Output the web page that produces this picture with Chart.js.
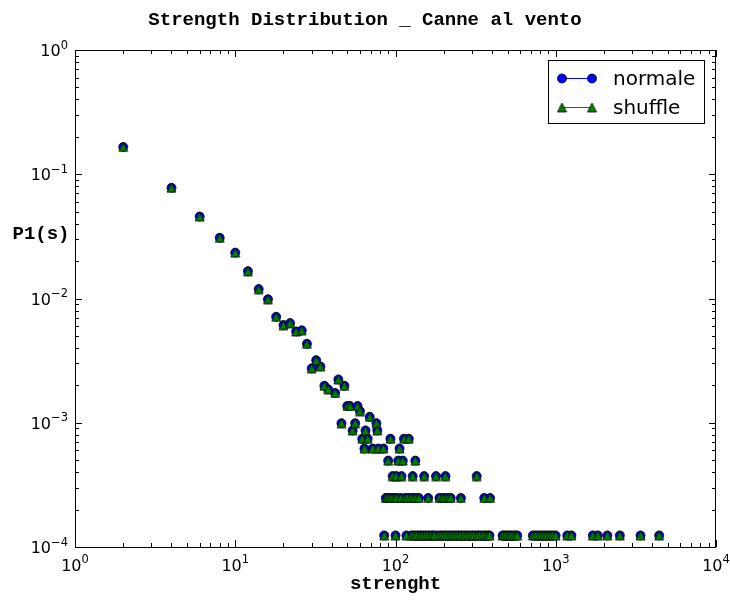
<!DOCTYPE html>
<html>
<head>
<meta charset="utf-8">
<script src="https://cdn.jsdelivr.net/npm/chart.js@4.4.0/dist/chart.umd.min.js"></script>
<style>
  body { margin: 0; background: #fff; }
  #chart { display: block; }
</style>
</head>
<body>
<canvas id="chart" width="730" height="601"></canvas>
<script>
// strength s and probability P1(s)
const strength = [
  2, 4, 6, 8, 10, 12, 14, 16, 18, 20, 22, 24, 26, 28, 30, 32, 34, 36, 38, 42,
  44, 46, 48, 50, 52, 54, 56, 58, 60, 62, 64, 65, 67, 69, 72, 76, 77, 78, 84, 85,
  87, 89, 90, 92, 93, 95, 96, 99, 100, 101, 102, 104, 106, 108, 109, 111, 113, 115, 117, 119,
  121, 124, 126, 128, 129, 131, 133, 134, 136, 140, 142, 147, 151, 153, 159, 160, 166, 172, 176, 179,
  186, 188, 194, 196, 201, 204, 205, 209, 213, 218, 221, 226, 235, 245, 254, 256, 265, 275, 286, 298,
  309, 321, 324, 334, 348, 358, 362, 376, 386, 389, 466, 482, 498, 515, 533, 556, 575, 720, 750, 782,
  812, 846, 880, 918, 956, 998, 1180, 1252, 1704, 1830, 2099, 2512, 3380, 4420
];
const pNormale = [
  0.1657, 0.0778, 0.0457, 0.0308, 0.0234, 0.0166, 0.0119, 0.00986, 0.00713, 0.00611,
  0.00634, 0.00543, 0.00554, 0.00432, 0.00274, 0.00319, 0.00284, 0.001984, 0.00186, 0.001736,
  0.002232, 0.000992, 0.001984, 0.001364, 0.001364, 0.000868, 0.000992, 0.001364, 0.00124, 0.000744,
  0.00062, 0.000868, 0.000744, 0.001116, 0.00062, 0.000992, 0.000868, 0.00062, 0.00062, 0.000124,
  0.000248, 0.000248, 0.000496, 0.000248, 0.000744, 0.000248, 0.000372, 0.000248, 0.000124, 0.000372,
  0.000248, 0.000496, 0.00062, 0.000248, 0.000372, 0.000496, 0.000744, 0.000248, 0.000124, 0.000248,
  0.000744, 0.000248, 0.000124, 0.000372, 0.000248, 0.000124, 0.000496, 0.000248, 0.000124, 0.000248,
  0.000124, 0.000124, 0.000372, 0.000124, 0.000124, 0.000248, 0.000124, 0.000124, 0.000124, 0.000372,
  0.000124, 0.000248, 0.000124, 0.000248, 0.000124, 0.000248, 0.000372, 0.000124, 0.000248, 0.000124,
  0.000248, 0.000124, 0.000124, 0.000124, 0.000124, 0.000248, 0.000124, 0.000124, 0.000124, 0.000124,
  0.000124, 0.000372, 0.000124, 0.000124, 0.000124, 0.000248, 0.000124, 0.000124, 0.000124, 0.000248,
  0.000124, 0.000124, 0.000124, 0.000124, 0.000124, 0.000124, 0.000124, 0.000124, 0.000124, 0.000124,
  0.000124, 0.000124, 0.000124, 0.000124, 0.000124, 0.000124, 0.000124, 0.000124, 0.000124, 0.000124,
  0.000124, 0.000124, 0.000124, 0.000124
];
// the shuffled network keeps the same strength sequence
const pShuffle = pNormale;

const xTicks = [1, 10, 100, 1000, 10000];
const xTickExp = ['0', '1', '2', '3', '4'];
const yTicks = [1, 0.1, 0.01, 0.001, 0.0001];
const yTickExp = ['0', '\u22121', '\u22122', '\u22123', '\u22124'];

const BLUE = '#0000ff';
const GREEN = '#008000';
const MONO = 'bold 19px "Liberation Mono", "Courier New", monospace';
const SANS = '"DejaVu Sans", sans-serif';

function triangleMarker(size, fill) {
  const c = document.createElement('canvas');
  c.width = size;
  c.height = size;
  const g = c.getContext('2d');
  const h = size / 2, r = h - 1;
  g.beginPath();
  g.moveTo(h, h - r);
  g.lineTo(h - r, h + r);
  g.lineTo(h + r, h + r);
  g.closePath();
  g.fillStyle = fill;
  g.fill();
  g.lineWidth = 0.8;
  g.strokeStyle = '#000';
  g.stroke();
  return c;
}
const tri = triangleMarker(11, GREEN);

function drawCircle(ctx, x, y) {
  ctx.beginPath();
  ctx.arc(x, y, 4.5, 0, Math.PI * 2);
  ctx.fillStyle = BLUE;
  ctx.fill();
  ctx.lineWidth = 0.8;
  ctx.strokeStyle = '#000';
  ctx.stroke();
}

// frame, inward ticks, power-of-ten labels, titles and legend
const decorations = {
  id: 'decorations',
  afterDraw(chart) {
    const ctx = chart.ctx;
    const a = chart.chartArea;
    const xs = chart.scales.x, ys = chart.scales.y;
    ctx.save();

    ctx.strokeStyle = '#000';
    ctx.lineWidth = 1;
    ctx.strokeRect(a.left + 0.5, a.top + 0.5, a.right - a.left - 1, a.bottom - a.top);

    ctx.beginPath();
    for (let d = 1; d <= 10000; d *= 10) {
      for (let m = 1; m <= (d === 10000 ? 1 : 9); m++) {
        const len = m === 1 ? 7 : 4;
        const px = Math.round(xs.getPixelForValue(m * d)) + 0.5;
        ctx.moveTo(px, a.bottom); ctx.lineTo(px, a.bottom - len);
        ctx.moveTo(px, a.top); ctx.lineTo(px, a.top + len);
      }
    }
    for (let d = 0.0001; d <= 1.01; d *= 10) {
      for (let m = 1; m <= (d > 0.5 ? 1 : 9); m++) {
        const len = m === 1 ? 7 : 4;
        const py = Math.round(ys.getPixelForValue(m * d)) + 0.5;
        ctx.moveTo(a.left, py); ctx.lineTo(a.left + len, py);
        ctx.moveTo(a.right, py); ctx.lineTo(a.right - len, py);
      }
    }
    ctx.stroke();

    ctx.fillStyle = '#000';
    ctx.textBaseline = 'alphabetic';
    const base = '16px ' + SANS, sup = '11.5px ' + SANS;
    xTicks.forEach((v, i) => {
      const px = xs.getPixelForValue(v);
      ctx.font = base;
      const w1 = ctx.measureText('10').width;
      ctx.font = sup;
      const w2 = ctx.measureText(xTickExp[i]).width;
      const x0 = px - (w1 + w2) / 2;
      ctx.textAlign = 'left';
      ctx.font = base;
      ctx.fillText('10', x0, 571);
      ctx.font = sup;
      ctx.fillText(xTickExp[i], x0 + w1, 563);
    });
    yTicks.forEach((v, i) => {
      const py = ys.getPixelForValue(v);
      ctx.font = sup;
      const w2 = ctx.measureText(yTickExp[i]).width;
      ctx.textAlign = 'right';
      ctx.fillText(yTickExp[i], 68, py - 1.5);
      ctx.font = base;
      ctx.fillText('10', 68 - w2, py + 6);
    });

    ctx.font = MONO;
    ctx.textAlign = 'center';
    ctx.fillText('Strength Distribution _ Canne al vento', 365, 25);
    ctx.fillText('strenght', (a.left + a.right) / 2, 589);
    ctx.fillText('P1(s)', 41, 239);

    // legend
    ctx.fillStyle = '#fff';
    ctx.fillRect(548, 60, 157, 63);
    ctx.strokeStyle = '#000';
    ctx.lineWidth = 1;
    ctx.strokeRect(548.5, 60.5, 156, 63);
    const rows = [
      { label: 'normale', y: 78, color: BLUE, base: 85 },
      { label: 'shuffle', y: 107, color: GREEN, base: 114 }
    ];
    rows.forEach((r, i) => {
      ctx.beginPath();
      ctx.moveTo(562, r.y + 0.5);
      ctx.lineTo(592, r.y + 0.5);
      ctx.strokeStyle = r.color;
      ctx.lineWidth = 1;
      ctx.stroke();
      [562, 592].forEach(x => {
        if (i === 0) drawCircle(ctx, x, r.y + 0.5);
        else ctx.drawImage(tri, x - tri.width / 2, r.y + 0.5 - tri.height / 2);
      });
      ctx.fillStyle = '#000';
      ctx.font = '20px ' + SANS;
      ctx.textAlign = 'left';
      ctx.fillText(r.label, 613, r.base);
    });
    ctx.restore();
  }
};

const ctx = document.getElementById('chart').getContext('2d');
new Chart(ctx, {
  type: 'scatter',
  data: {
    datasets: [{
      label: 'normale',
      data: strength.map((s, i) => ({ x: s, y: pNormale[i] })),
      pointStyle: 'circle',
      pointRadius: 4.5,
      pointHoverRadius: 4.5,
      backgroundColor: BLUE,
      borderColor: '#000',
      borderWidth: 0.8,
      showLine: false,
      order: 1
    }, {
      label: 'shuffle',
      data: strength.map((s, i) => ({ x: s, y: pShuffle[i] })),
      pointStyle: tri,
      pointRadius: 4.5,
      pointHoverRadius: 4.5,
      backgroundColor: GREEN,
      borderColor: '#000',
      borderWidth: 0.8,
      showLine: false,
      order: 0
    }]
  },
  options: {
    responsive: false,
    animation: false,
    layout: { padding: { left: 75, right: 14, top: 50, bottom: 54 } },
    plugins: { legend: { display: false }, tooltip: { enabled: false } },
    scales: {
      x: { type: 'logarithmic', min: 1, max: 10000, display: false },
      y: { type: 'logarithmic', min: 0.0001, max: 1, display: false }
    }
  },
  plugins: [decorations]
});
</script>
</body>
</html>
